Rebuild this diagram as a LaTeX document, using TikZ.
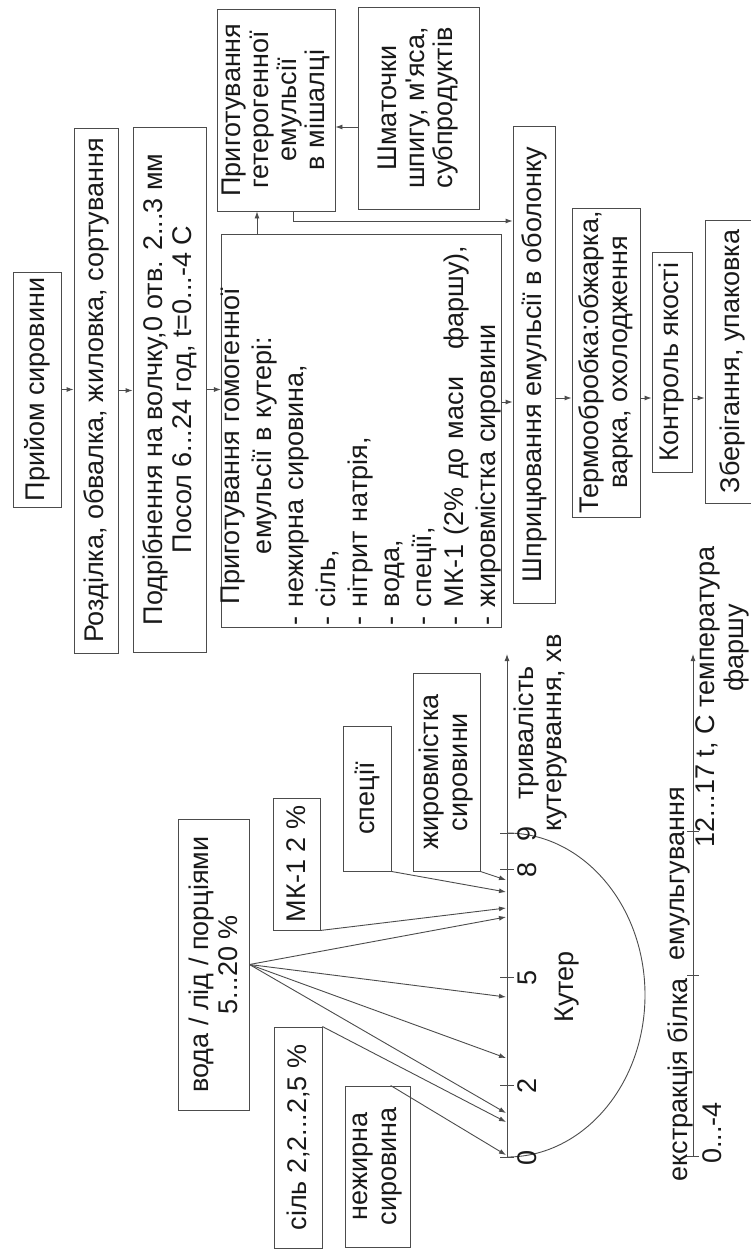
\documentclass[tikz,border=0pt]{standalone}
\usepackage{fontspec}
\setmainfont{Liberation Sans}
\usepackage{tikz}
\usetikzlibrary{arrows.meta,calc}

\tikzset{
  box/.style={draw=black!70, rotate=90, inner sep=3pt, align=center, text=black!90,
    font=\fontsize{27}{29}\selectfont},
  lbl/.style={rotate=90, inner sep=0pt, align=center, text=black!90,
    font=\fontsize{27}{28}\selectfont},
  ln/.style={draw=black!70},
}

\begin{document}
\begin{tikzpicture}[x=1pt, y=-1pt, line width=0.9pt, >={Latex[length=7pt,width=5pt]}]
\useasboundingbox (0,0) rectangle (751,1252);
\fill[white] (0,0) rectangle (751,1252);

% technological line
\node[box, minimum width=235pt, minimum height=48pt] (priyom) at (37,389.5) {Прийом сировини};
\node[box, minimum width=525pt, minimum height=44pt] (rozd) at (96,390.5) {Розділка, обвалка, жиловка, сортування};
\node[box, minimum width=525pt, minimum height=73pt] (podr) at (169.5,389.5) {Подрібнення на волчку,0 отв. 2...3 мм\\Посол 6...24 год, t=0...-4 С};
\node[box, align=left, text width=389pt, inner xsep=2pt, inner ysep=0pt, minimum height=279pt,
  font=\fontsize{27}{32}\selectfont] (gomo) at (361.5,430.5) {%
  \mbox{\hspace*{21pt}Приготування гомогенної}\\
  \mbox{\hspace*{71pt}емульсії в кутері:}\\
  \mbox{- нежирна сировина,}\\
  \mbox{- сіль,}\\
  \mbox{- нітрит натрія,}\\
  \mbox{- вода,}\\
  \mbox{- спеції,}\\
  \mbox{- МК-1 (2\% до маси\hspace{1em}фаршу),}\\
  \mbox{- жировмістка сировини}};
\node[box, minimum width=202pt, minimum height=118pt, font=\fontsize{27}{28}\selectfont] (getero) at (276,110) {Приготування\\гетерогенної\\емульсії\\в мішалці};
\node[box, minimum width=202pt, minimum height=121pt, font=\fontsize{27}{28}\selectfont] (shmat) at (418.5,108) {Шматочки\\шпигу, м\textquotesingle яса,\\субпродуктів};
\node[box, minimum width=477pt, minimum height=42pt] (shpr) at (534,364.5) {Шприцювання емульсії в оболонку};
\node[box, minimum width=309pt, minimum height=68pt] (termo) at (606,362.5) {Термообробка:обжарка,\\варка, охолодження};
\node[box, minimum width=220pt, minimum height=40pt] (kontr) at (672,362) {Контроль якості};
\node[box, minimum width=283pt, minimum height=54pt] (zber) at (732,361.5) {Зберігання, упаковка};

\draw[->, ln] (priyom.south) -- (priyom.south -| rozd.north);
\draw[->, ln] (rozd.south) -- (rozd.south -| podr.north);
\draw[->, ln] (podr.south) -- (podr.south -| gomo.north);
\draw[->, ln] (257,0 |- gomo.east) -- (257,0 |- getero.west);
\draw[->, ln] (shmat.north |- 0,127) -- (getero.south |- 0,127);
\draw[->, ln] (293,0 |- getero.west) |- (shpr.north |- 0,221);
\draw[->, ln] (gomo.south |- 0,402) -- (shpr.north |- 0,402);
\draw[->, ln] (shpr.south |- 0,398) -- (termo.north |- 0,398);
\draw[->, ln] (termo.south |- 0,398) -- (kontr.north |- 0,398);
\draw[->, ln] (kontr.south |- 0,398) -- (zber.north |- 0,398);

% cutter
\node[box, minimum width=291pt, minimum height=71pt] (voda) at (213.5,964.5) {вода / лід / порціями\\5...20 \%};
\node[box, minimum width=132pt, minimum height=47pt] (mk) at (296.5,864) {МК-1 2 \%};
\node[box, minimum width=221pt, minimum height=48pt] (sil) at (298,1137.5) {сіль 2,2...2,5 \%};
\node[box, minimum width=161pt, minimum height=65pt] (nezh) at (377.5,1166.5) {нежирна\\сировина};
\node[box, minimum width=145pt, minimum height=48pt] (spec) at (367,798.5) {спеції};
\node[box, minimum width=198pt, minimum height=67pt] (zhyr) at (446.5,772) {жировмістка\\сировини};

\coordinate (k0) at (507,1157);
\coordinate (ktop) at (507,654);
\draw[->, ln] (k0) -- (ktop);
\draw[ln] (k0) arc[start angle=-90, end angle=90, x radius=138pt, y radius=162pt];
\foreach \m in {0,2,5,8,9} {
  \draw[ln] (500,1157-36*\m) -- (514,1157-36*\m);
  \node[lbl] (min\m) at (527,1158-36*\m) {\m};
}
\node[lbl] (kuter) at (567,987) {Кутер};
\node[lbl] (trival) at (541,733) {тривалість\\кутерування, хв};

\foreach \y [count=\i] in {880,892,908,917,997,1058,1113,1122,1155}
  \coordinate (in\i) at (506,\y);
\draw[->, ln] (zhyr.south west) -- (in1);
\draw[->, ln] (spec.south west) -- (in2);
\draw[->, ln] (mk.south west) -- (in3);
\foreach \i in {4,5,6,7}
  \draw[->, ln] (voda.south) -- (in\i);
\draw[->, ln] (sil.south east) -- (in8);
\draw[->, ln] ($(nezh.north east)!0.7!(nezh.south east)$) -- (in9);

% temperature axis
\coordinate (e0) at (693,1156);
\coordinate (etop) at (693,654);
\draw[->, ln] (e0) -- (etop);
\foreach \y in {1156,975,831}
  \draw[ln] (687,\y) -- (699,\y);
\node[lbl] (ekstr) at (680,1080) {екстракція білка};
\node[lbl] (emul) at (680,874) {емульгування};
\node[lbl] (tlow) at (712,1133) {0...-4};
\node[lbl] (thigh) at (708,697) {12...17 t, C температура};
\node[lbl] (farsh) at (737,648) {фаршу};
\end{tikzpicture}
\end{document}
